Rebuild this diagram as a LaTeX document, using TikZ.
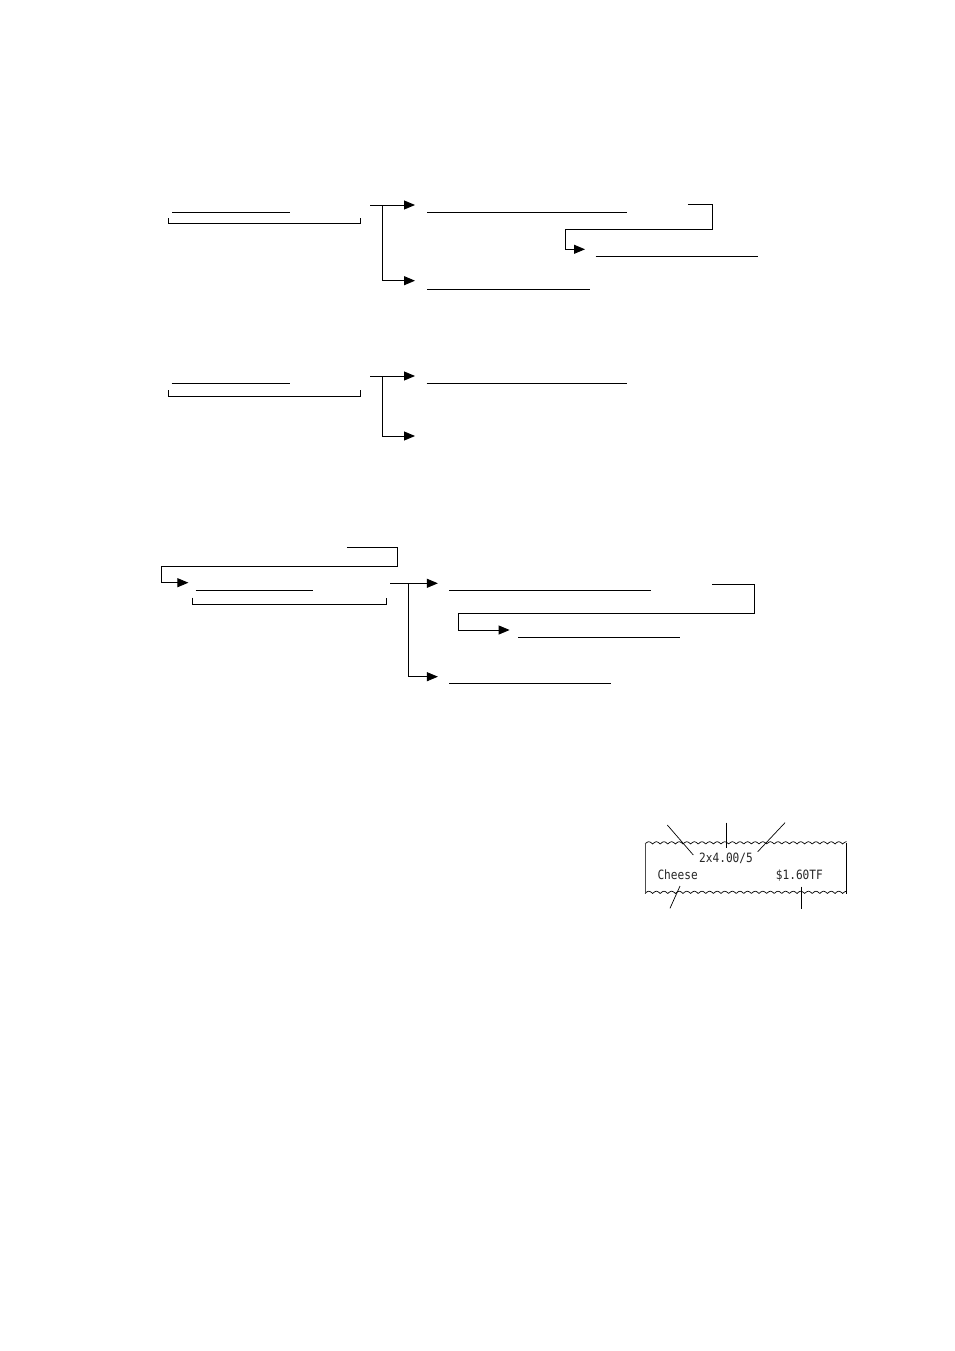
\documentclass[tikz,border=0pt]{standalone}
\usepackage{fontspec}
\usetikzlibrary{arrows.meta}
\newfontfamily\rcptfont[FakeStretch=0.87]{DejaVu Sans Mono}
\begin{document}
\begin{tikzpicture}[x=1pt,y=-1pt,
  ln/.style={line width=0.9pt},
  arr/.style={line width=0.9pt,-{Triangle[length=11pt,width=9pt]}},
  rtext/.style={anchor=base west,inner sep=0pt,text=black!85,font=\rcptfont\fontsize{12.8}{14}\selectfont}]
\useasboundingbox[fill=white] (0,0) rectangle (954,1351);

% ---------- Section 1 ----------
\coordinate (s1a1) at (172,212.3); \coordinate (s1a2) at (290,212.3);
\draw[ln] (s1a1) -- (s1a2);
\coordinate (s1bl) at (168.6,218.3); \coordinate (s1br) at (360.7,218.3);
\draw[ln] (s1bl) -- ++(0,5) -| (s1br);
\coordinate (s1o) at (370,205); \coordinate (s1t1) at (415,205);
\coordinate (s1v) at (382.5,205); \coordinate (s1t2) at (415,280.7);
\draw[arr] (s1o) -- (s1t1);
\draw[arr] (s1v) |- (s1t2);
\coordinate (s1b1) at (427.2,212.3); \coordinate (s1b2) at (627.2,212.3);
\draw[ln] (s1b1) -- (s1b2);
\coordinate (s1k1) at (687.8,204.3); \coordinate (s1k2) at (712.3,229.3);
\coordinate (s1k3) at (565.8,229.3); \coordinate (s1k4) at (585,249.3);
\draw[arr] (s1k1) -| (s1k2) -- (s1k3) |- (s1k4);
\coordinate (s1c1) at (595.5,256); \coordinate (s1c2) at (757.9,256);
\draw[ln] (s1c1) -- (s1c2);
\coordinate (s1d1) at (427.2,289.3); \coordinate (s1d2) at (589.6,289.3);
\draw[ln] (s1d1) -- (s1d2);

% ---------- Section 2 ----------
\coordinate (s2a1) at (171.7,383.3); \coordinate (s2a2) at (290,383.3);
\draw[ln] (s2a1) -- (s2a2);
\coordinate (s2bl) at (168.3,390); \coordinate (s2br) at (360.7,390);
\draw[ln] (s2bl) -- ++(0,6) -| (s2br);
\coordinate (s2o) at (370,376); \coordinate (s2t1) at (415,376);
\coordinate (s2v) at (382.3,376); \coordinate (s2t2) at (415,436);
\draw[arr] (s2o) -- (s2t1);
\draw[arr] (s2v) |- (s2t2);
\coordinate (s2b1) at (426.7,383.3); \coordinate (s2b2) at (626.7,383.3);
\draw[ln] (s2b1) -- (s2b2);

% ---------- Section 3 ----------
\coordinate (s3k1) at (346.8,547.3); \coordinate (s3k2) at (397.5,566);
\coordinate (s3k3) at (161.9,566); \coordinate (s3k4) at (188.4,582.7);
\draw[arr] (s3k1) -| (s3k2) -- (s3k3) |- (s3k4);
\coordinate (s3a1) at (195.5,590.7); \coordinate (s3a2) at (313.2,590.7);
\draw[ln] (s3a1) -- (s3a2);
\coordinate (s3bl) at (192.8,597.7); \coordinate (s3br) at (386.4,597.7);
\draw[ln] (s3bl) -- ++(0,6.6) -| (s3br);
\coordinate (s3o) at (390.4,583.3); \coordinate (s3t1) at (437.9,583.3);
\coordinate (s3v) at (408.2,583.3); \coordinate (s3t2) at (437.9,676.7);
\draw[arr] (s3o) -- (s3t1);
\draw[arr] (s3v) |- (s3t2);
\coordinate (s3b1) at (449,590.7); \coordinate (s3b2) at (651,590.7);
\draw[ln] (s3b1) -- (s3b2);
\coordinate (s3m1) at (712.3,584); \coordinate (s3m2) at (754.7,613.3);
\coordinate (s3m3) at (458.1,613.3); \coordinate (s3m4) at (509.6,630);
\draw[arr] (s3m1) -| (s3m2) -- (s3m3) |- (s3m4);
\coordinate (s3c1) at (518.3,637.3); \coordinate (s3c2) at (679.8,637.3);
\draw[ln] (s3c1) -- (s3c2);
\coordinate (s3d1) at (449,683.3); \coordinate (s3d2) at (611.3,683.3);
\draw[ln] (s3d1) -- (s3d2);

% ---------- Receipt ----------
\draw[line width=0.7pt] plot[domain=0:201.7,samples=400] ({645+\x},{844-2.2*abs(sin(\x/7.6*180))});
\draw[line width=0.7pt] plot[domain=0:201.7,samples=400] ({645+\x},{893.5-2.2*abs(sin(\x/7.6*180))});
\draw[line width=0.9pt,draw=black!70] (645,842.5) -- (645,893);
\draw[line width=0.9pt] (846.7,843) -- (846.7,894);
\node[rtext] (q) at (699,862.7) {2x4.00/5};
\node[rtext] (item) at (657.3,879.3) {Cheese};
\node[rtext] (price) at (775.7,879.3) {\$1.60TF};
\coordinate (l1a) at (667.3,825); \coordinate (l1b) at (693.3,855);
\coordinate (l2a) at (726,822.7); \coordinate (l2b) at (726,848.3);
\coordinate (l3a) at (785,822.7); \coordinate (l3b) at (757.7,851.7);
\coordinate (l4a) at (680,886); \coordinate (l4b) at (670,908.3);
\coordinate (l5a) at (801.7,886.7); \coordinate (l5b) at (801.7,909);
\draw[line width=0.7pt] (l1a) -- (l1b);
\draw[line width=0.7pt] (l2a) -- (l2b);
\draw[line width=0.7pt] (l3a) -- (l3b);
\draw[line width=0.7pt] (l4a) -- (l4b);
\draw[line width=0.7pt] (l5a) -- (l5b);
\end{tikzpicture}
\end{document}
